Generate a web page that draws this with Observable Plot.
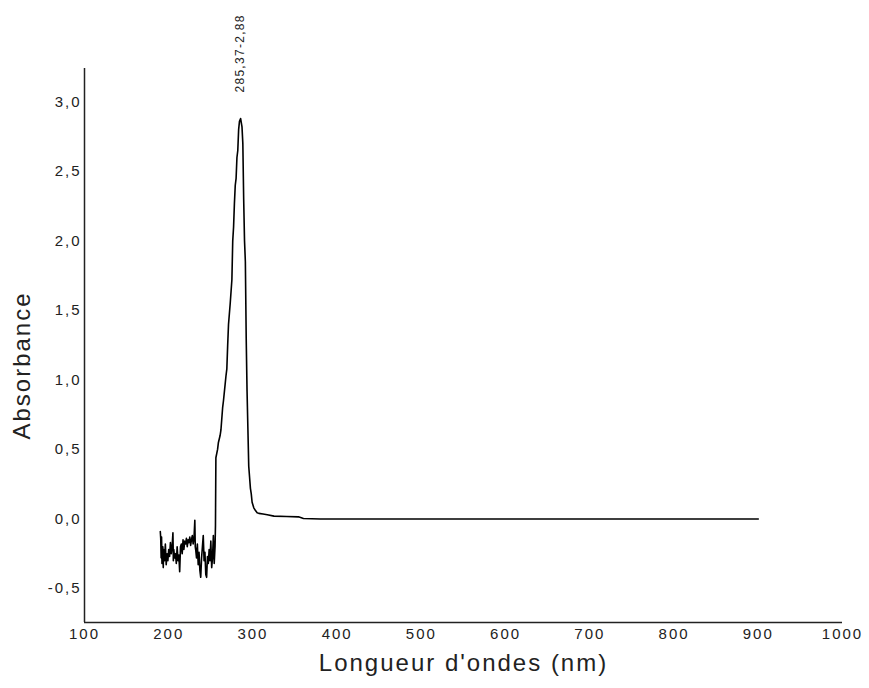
<!DOCTYPE html>
<html>
<head>
<meta charset="utf-8">
<script src="https://cdn.jsdelivr.net/npm/d3@7"></script>
<script src="https://cdn.jsdelivr.net/npm/@observablehq/plot@0.6"></script>
<style>
  html, body { margin: 0; padding: 0; background: #fff; }
  #chart svg { display: block; }
</style>
</head>
<body>
<div id="chart"></div>
<script>
// Wavelength (nm)
const wavelengths = [
  190, 190.5, 191, 191.5, 192, 193, 193.5, 194, 195, 196, 197, 198, 199, 200,
  201, 202, 203, 204, 205, 205.5, 206, 207, 208, 209, 210, 211, 212, 213, 214,
  215, 216, 217, 218, 219, 220, 221, 222, 223, 224, 225, 226, 227, 228, 229,
  230, 231, 231.5, 232, 233, 234, 235, 236, 237, 238, 239, 240, 241, 242, 243,
  244, 245, 246, 247, 248, 249, 250, 251, 252, 253, 254, 255, 255.5,
  256, 258, 259, 261, 262, 264, 265, 267, 268, 269, 270, 271, 273, 275, 276,
  277, 278, 279, 280, 281, 282, 283, 284, 285.37, 287, 288, 289, 290, 291,
  292, 293, 294, 295, 296, 297, 298, 299, 301, 303, 305, 307, 312, 317, 325,
  340, 354, 360, 380, 450, 550, 650, 750, 850, 900
];
// Absorbance
const absorbance = [
  -0.09, -0.14, -0.28, -0.13, -0.32, -0.20, -0.35, -0.22, -0.30, -0.18, -0.33, -0.25, -0.30, -0.22,
  -0.27, -0.17, -0.25, -0.20, -0.10, -0.30, -0.22, -0.28, -0.25, -0.32, -0.20, -0.30, -0.26, -0.38, -0.20,
  -0.18, -0.25, -0.15, -0.22, -0.16, -0.18, -0.14, -0.20, -0.15, -0.17, -0.13, -0.19, -0.15, -0.12, -0.18,
  -0.14, -0.01, -0.20, -0.22, -0.28, -0.18, -0.33, -0.24, -0.37, -0.42, -0.28, -0.20, -0.12, -0.30, -0.24,
  -0.40, -0.42, -0.27, -0.32, -0.22, -0.30, -0.16, -0.35, -0.28, -0.12, -0.32, -0.20, -0.05,
  0.44, 0.50, 0.55, 0.60, 0.64, 0.80, 0.85, 0.97, 1.03, 1.08, 1.25, 1.40, 1.55, 1.72, 2.00,
  2.10, 2.27, 2.40, 2.45, 2.60, 2.65, 2.80, 2.86, 2.88, 2.82, 2.70, 2.30, 2.00, 1.85,
  1.30, 0.92, 0.65, 0.38, 0.30, 0.22, 0.18, 0.12, 0.08, 0.06, 0.045, 0.04, 0.035, 0.03, 0.02,
  0.017, 0.015, 0.003, 0.0, 0.0, 0.0, 0.0, 0.0, 0.0, 0.0
];
// Peak annotation
const peakWavelength = [285.37];
const peakAbsorbance = [2.88];
const peakLabels = ["285,37-2,88"];

// Axes
const xTicks = [100, 200, 300, 400, 500, 600, 700, 800, 900, 1000];
const yTicks = [-0.5, 0.0, 0.5, 1.0, 1.5, 2.0, 2.5, 3.0];
const xDomain = [100, 1000];
const yDomain = [-0.745, 3.24];
const xLabel = "Longueur d'ondes (nm)";
const yLabel = "Absorbance";

const spectrum = wavelengths.map((w, i) => ({w, a: absorbance[i]}));
const peaks = peakWavelength.map((w, i) => ({w, a: peakAbsorbance[i], label: peakLabels[i]}));
const fmtY = d => d3.format(".1f")(d).replace(".", ",").replace("\u2212", "-");

const plot = Plot.plot({
  width: 869,
  height: 688,
  marginLeft: 84,
  marginRight: 27,
  marginTop: 68,
  marginBottom: 66,
  style: {fontFamily: "'Liberation Sans', Arial, sans-serif", background: "#fff", color: "#222"},
  x: {domain: xDomain, ticks: xTicks},
  y: {domain: yDomain, ticks: yTicks},
  marks: [
    Plot.axisX({ticks: xTicks, tickSize: 0, tickPadding: 6, fontSize: 15, tickFormat: d => String(d), label: null, fill: "#222"}),
    Plot.axisY({ticks: yTicks, tickSize: 0, tickPadding: 3, fontSize: 15, tickFormat: fmtY, label: null, fill: "#222"}),
    Plot.ruleX([xDomain[0]], {stroke: "#222", strokeWidth: 1.5}),
    Plot.ruleY([yDomain[0]], {stroke: "#222", strokeWidth: 1.5}),
    Plot.line(spectrum, {x: "w", y: "a", stroke: "#000", strokeWidth: 1.6, curve: "linear"}),
    Plot.text(peaks, {x: "w", y: "a", text: "label", rotate: -90, textAnchor: "start", dy: -26, fontSize: 12, fill: "#222", className: "peaklabel"}),
    Plot.text([xLabel], {frameAnchor: "bottom", dy: 48, fontSize: 24, fill: "#222", className: "xtitle"}),
    Plot.text([yLabel], {frameAnchor: "left", rotate: -90, textAnchor: "middle", dx: -62, dy: 20, fontSize: 24, fill: "#222", className: "ytitle"})
  ]
});
document.getElementById("chart").appendChild(plot);
// letter spacing to mimic the original rendering
const svg = d3.select(plot);
svg.selectAll("g[aria-label='x-axis tick label'] text, g[aria-label='y-axis tick label'] text").style("letter-spacing", "2px");
svg.selectAll(".xtitle text, .ytitle text").style("letter-spacing", "2px");
svg.selectAll(".peaklabel text").style("letter-spacing", "1.3px");
</script>
</body>
</html>
